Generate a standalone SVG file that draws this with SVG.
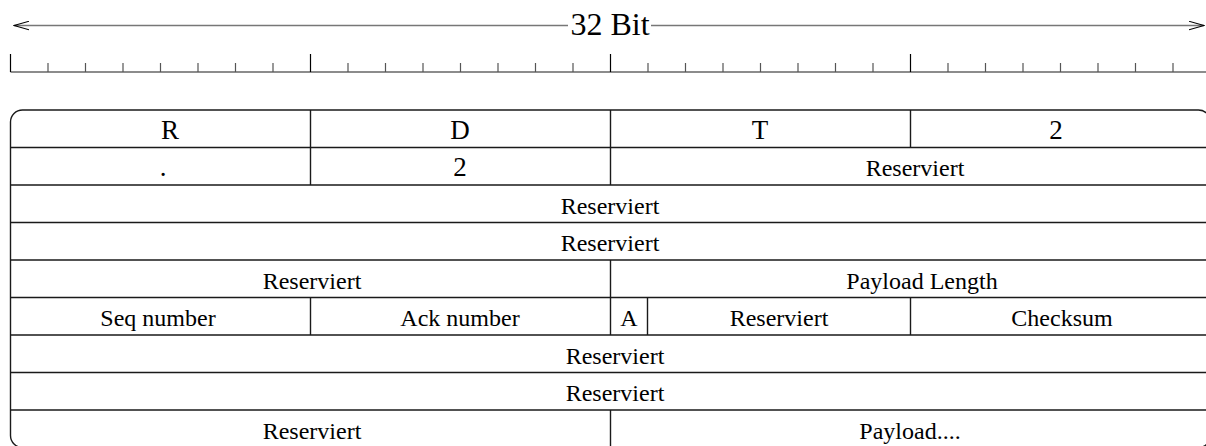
<svg xmlns="http://www.w3.org/2000/svg" width="1206" height="446" viewBox="0 0 1206 446">
<style>
text{font-family:"Liberation Serif","Times New Roman",serif;fill:#000;text-anchor:middle}
.t{font-size:24px}
.c{font-size:27px}
.title{font-size:32px}
.grid{stroke:#1a1a1a;stroke-width:1.4;fill:none}
.minor{stroke:#555;stroke-width:1.2}
.major{stroke:#000;stroke-width:1.2}
.arr{stroke:#777;stroke-width:1.6;fill:none}
</style>
<defs>
<marker id="ah" viewBox="0 0 16 10" refX="15" refY="5" markerWidth="16" markerHeight="10" markerUnits="userSpaceOnUse" orient="auto-start-reverse">
<path d="M0,0.8 L15,5 L0,9.2" fill="none" stroke="#000" stroke-width="1.1"/>
</marker>
</defs>
<g id="scale">
<line class="arr" x1="14" y1="25.5" x2="568" y2="25.5" marker-start="url(#ah)"/>
<line class="arr" x1="651" y1="25.5" x2="1204" y2="25.5" marker-end="url(#ah)"/>
<text class="title" x="610" y="35">32 Bit</text>
<line x1="10.5" y1="72" x2="1206" y2="72" stroke="#666" stroke-width="1.5"/>
<path class="major" d="M10.5,54V72M310.5,54V72M610.5,54V72M910.5,54V72"/>
<path class="minor" d="M48,63V72M85.5,63V72M123,63V72M160.5,63V72M198,63V72M235.5,63V72M273,63V72M348,63V72M385.5,63V72M423,63V72M460.5,63V72M498,63V72M535.5,63V72M573,63V72M648,63V72M685.5,63V72M723,63V72M760.5,63V72M798,63V72M835.5,63V72M873,63V72M948,63V72M985.5,63V72M1023,63V72M1060.5,63V72M1098,63V72M1135.5,63V72M1173,63V72"/>
</g>
<g id="table">
<rect class="grid" x="10.5" y="110" width="1200" height="337.5" rx="12" ry="12"/>
<path class="grid" d="M10.5,147.5H1210M10.5,185H1210M10.5,222.5H1210M10.5,260H1210M10.5,297.5H1210M10.5,335H1210M10.5,372.5H1210M10.5,410H1210"/>
<path class="grid" d="M310.5,110V185M610.5,110V185M910.5,110V147.5M610.5,260V297.5M610.5,297.5V335M310.5,297.5V335M647.5,297.5V335M910.5,297.5V335M610.5,410V447.5"/>
</g>
<g id="row1">
<text class="c" x="170" y="138.5">R</text>
<text class="c" x="460" y="138.5">D</text>
<text class="c" x="760" y="138.5">T</text>
<text class="c" x="1056" y="138.5">2</text>
</g>
<g id="row2">
<text class="c" x="163" y="176">.</text>
<text class="c" x="460" y="176">2</text>
<text class="t" x="915" y="176">Reserviert</text>
</g>
<g id="row3"><text class="t" x="610" y="213.5">Reserviert</text></g>
<g id="row4"><text class="t" x="610" y="251">Reserviert</text></g>
<g id="row5">
<text class="t" x="312" y="288.5">Reserviert</text>
<text class="t" x="922" y="288.5">Payload Length</text>
</g>
<g id="row6">
<text class="t" x="158" y="326">Seq number</text>
<text class="t" x="460" y="326">Ack number</text>
<text class="t" x="629" y="326">A</text>
<text class="t" x="779" y="326">Reserviert</text>
<text class="t" x="1062" y="326">Checksum</text>
</g>
<g id="row7"><text class="t" x="615" y="363.5">Reserviert</text></g>
<g id="row8"><text class="t" x="615" y="401">Reserviert</text></g>
<g id="row9">
<text class="t" x="312" y="438.5">Reserviert</text>
<text class="t" x="910" y="438.5">Payload....</text>
</g>
</svg>
